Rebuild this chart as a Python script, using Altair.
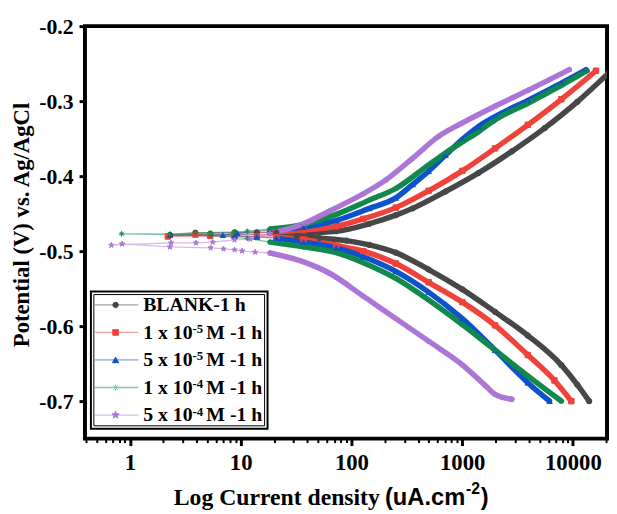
import altair as alt
import pandas as pd

# ---------------- data (current density in uA/cm2, potential in V) ----------------
NAMES = ["BLANK-1 h", "1 x 10-5 M -1 h", "5 x 10-5 M -1 h", "1 x 10-4 M -1 h", "5 x 10-4 M -1 h"]
LABEL_MAIN = ["BLANK-1 h", "1 x 10", "5 x 10", "1 x 10", "5 x 10"]
LABEL_SUP = ["", "-5", "-5", "-4", "-4"]
LABEL_TAIL = ["", "M -1 h", "M -1 h", "M -1 h", "M -1 h"]

BLANK_CATH_I = [14030, 10950, 7873, 3917, 1983, 1004, 498, 252, 145, 90, 51.5, 32, 21, 14, 8.8, 5.3, 2.3]
BLANK_CATH_E = [-0.700, -0.678, -0.652, -0.6125, -0.581, -0.551, -0.5245, -0.502, -0.4917, -0.486,
                -0.4826, -0.480, -0.4786, -0.478, -0.4775, -0.477, -0.4785]
BLANK_ANOD_I = [3.9, 8.8, 14, 21, 37, 73, 145, 252, 358, 708, 1397, 2812, 5559, 10950, 21180]
BLANK_ANOD_E = [-0.4755, -0.475, -0.475, -0.4752, -0.4755, -0.4734, -0.4635, -0.452, -0.443, -0.4205,
                -0.396, -0.367, -0.336, -0.301, -0.262]

RED_CATH_I = [9680, 6822, 3917, 1983, 1004, 498, 252, 128, 73, 37, 21, 14, 8.8, 5.3, 2.2]
RED_CATH_E = [-0.700, -0.6725, -0.6385, -0.599, -0.568, -0.5416, -0.5165, -0.500, -0.4925, -0.4845,
              -0.4815, -0.4805, -0.480, -0.4795, -0.4805]
RED_ANOD_I = [3.9, 8.8, 18.4, 37, 73, 128, 252, 498, 1004, 1983, 3917, 7873, 16190]
RED_ANOD_E = [-0.478, -0.4775, -0.4747, -0.472, -0.467, -0.457, -0.442, -0.4196, -0.393, -0.363,
              -0.3316, -0.2975, -0.2595]

BLUE_CATH_I = [6155, 3917, 1983, 1004, 498, 252, 128, 73, 37, 21, 14, 8.8, 2.3]
BLUE_CATH_E = [-0.700, -0.6754, -0.632, -0.590, -0.5547, -0.527, -0.5075, -0.4957, -0.488, -0.4826,
               -0.481, -0.4795, -0.4786]
BLUE_ANOD_I = [6.9, 9.3, 18.4, 37, 73, 145, 252, 358, 498, 708, 1004, 1397, 1983, 3917, 7873, 13180]
BLUE_ANOD_E = [-0.4786, -0.476, -0.472, -0.468, -0.459, -0.443, -0.429, -0.411, -0.3935, -0.372,
               -0.351, -0.334, -0.3205, -0.299, -0.276, -0.258]

GREEN_CATH_I = [7873, 3917, 1983, 1004, 498, 252, 128, 73, 37, 18.4, 11.5, 5.4, 0.84]
GREEN_CATH_E = [-0.700, -0.6662, -0.6321, -0.598, -0.5652, -0.5364, -0.5154, -0.502, -0.4944, -0.488,
                -0.483, -0.479, -0.477]
GREEN_ANOD_I = [2.3, 3.9, 5.35, 8.8, 11.5, 18.4, 37, 73, 145, 252, 498, 708, 1004, 1397, 1983, 3917, 7873, 13460]
GREEN_ANOD_E = [-0.477, -0.476, -0.4755, -0.4747, -0.4734, -0.4705, -0.4643, -0.451, -0.432, -0.4165,
                -0.385, -0.369, -0.3545, -0.341, -0.325, -0.303, -0.279, -0.2595]

PURPLE_CATH_I = [2812, 1983, 1614, 1004, 498, 252, 128, 63.4, 37, 18.4, 13.5, 10.3, 8.8, 7.0, 5.35, 2.3, 0.85, 0.68]
PURPLE_CATH_E = [-0.6975, -0.691, -0.679, -0.6516, -0.620, -0.590, -0.560, -0.5295, -0.5143, -0.5025,
                 -0.5013, -0.4997, -0.4983, -0.497, -0.4957, -0.4944, -0.4904, -0.492]
PURPLE_ANOD_I = [2.35, 3.94, 5.6, 8.8, 12.2, 18.4, 37, 63.4, 128, 205, 358, 612, 1004, 1983, 3917, 9290]
PURPLE_ANOD_E = [-0.489, -0.489, -0.488, -0.485, -0.484, -0.4765, -0.4635, -0.4465, -0.4235, -0.405,
                 -0.376, -0.347, -0.329, -0.3067, -0.2857, -0.258]

X_MAJOR = [1, 10, 100, 1000, 10000]
X_MINOR = [0.4, 0.5, 0.6, 0.7, 0.8, 0.9, 2, 3, 4, 5, 6, 7, 8, 9, 20, 30, 40, 50, 60, 70, 80, 90,
           200, 300, 400, 500, 600, 700, 800, 900, 2000, 3000, 4000, 5000, 6000, 7000, 8000, 9000, 20000]
Y_TICKS = [-0.2, -0.3, -0.4, -0.5, -0.6, -0.7]

# ---------------- styling ----------------
COLORS = ["#474747", "#f0413a", "#0c52c8", "#12894c", "#ad76d6"]
LEG_MARK = ["#474747", "#f0413a", "#0c52c8", "#7fcf9f", "#ad76d6"]
ASTERISK = "M-1,0L1,0M0,-1L0,1M-0.7,-0.7L0.7,0.7M-0.7,0.7L0.7,-0.7"
STAR = ("M0,-1L0.235,-0.324L0.951,-0.309L0.38,0.124L0.588,0.809L0,0.4L-0.588,0.809"
        "L-0.38,0.124L-0.951,-0.309L-0.235,-0.324Z")
SHAPES = ["circle", "square", "triangle-up", ASTERISK, STAR]
SIZES = [30, 32, 40, 45, 60]
SERIF = "Liberation Serif"
SANS = "Liberation Sans"

series_data = [
    (BLANK_CATH_I, BLANK_CATH_E, BLANK_ANOD_I, BLANK_ANOD_E),
    (RED_CATH_I, RED_CATH_E, RED_ANOD_I, RED_ANOD_E),
    (BLUE_CATH_I, BLUE_CATH_E, BLUE_ANOD_I, BLUE_ANOD_E),
    (GREEN_CATH_I, GREEN_CATH_E, GREEN_ANOD_I, GREEN_ANOD_E),
    (PURPLE_CATH_I, PURPLE_CATH_E, PURPLE_ANOD_I, PURPLE_ANOD_E),
]

rows = []
for k, (ci, ce, ai, ae) in enumerate(series_data):
    seq = 0
    for i, e in zip(ci, ce):
        rows.append({"series": NAMES[k], "I": i, "E": e, "branch": "c", "seq": seq})
        seq += 1
    for i, e in zip(ai, ae):
        rows.append({"series": NAMES[k], "I": i, "E": e, "branch": "a", "seq": seq})
        seq += 1
df = pd.DataFrame(rows)

W, H = 529, 418
MAJ = "abs(log(datum.value)/LN10 - round(log(datum.value)/LN10)) < 0.001"

xscale = alt.Scale(type="log", domain=[0.3925, 20340], nice=False)
yscale = alt.Scale(domain=[-0.75, -0.2], nice=False, zero=False)
cscale = alt.Scale(domain=NAMES, range=COLORS)

x_enc = alt.X("I:Q", scale=xscale, axis=alt.Axis(
    values=X_MAJOR + X_MINOR, labelExpr=f"({MAJ}) ? format(datum.value, 'd') : ''",
    tickSize={"condition": {"test": MAJ, "value": 7}, "value": 4},
    tickWidth={"condition": {"test": MAJ, "value": 3}, "value": 2},
    tickColor="black", domain=False, grid=False, labelOverlap=False,
    labelFont=SERIF, labelFontSize=23, labelFontWeight="bold", labelColor="black",
    labelPadding=6, title=None))
y_enc = alt.Y("E:Q", scale=yscale, axis=alt.Axis(
    values=Y_TICKS, labelExpr="'-' + format(abs(datum.value), '.1f')",
    tickSize=6, tickWidth=3, tickColor="black", domain=False, grid=False,
    labelFont=SERIF, labelFontSize=22, labelFontWeight="bold", labelColor="black",
    labelPadding=6, title="Potential (V) vs. Ag/AgCl", titleFont=SERIF, titleFontSize=23,
    titleFontWeight="bold", titleColor="black", titleX=-64, titleY=201, titleBaseline="middle"))

base = alt.Chart(df)
thin = base.mark_line(strokeWidth=1.3, opacity=0.5, clip=True).encode(
    x=x_enc, y=y_enc, color=alt.Color("series:N", scale=cscale, legend=None),
    detail="series:N", order="seq:Q")
thick = base.transform_filter("datum.I >= 18").mark_line(
    strokeWidth=5.5, clip=True, strokeCap="round", interpolate="monotone").encode(
    x=x_enc, y=y_enc, color=alt.Color("series:N", scale=cscale, legend=None),
    detail=["series:N", "branch:N"], order=alt.Order("I:Q"))
pts = base.mark_point(filled=True, opacity=1, strokeWidth=1, clip=True).encode(
    x=x_enc, y=y_enc,
    color=alt.Color("series:N", scale=cscale, legend=None),
    stroke=alt.Stroke("series:N", scale=cscale, legend=None),
    shape=alt.Shape("series:N", scale=alt.Scale(domain=NAMES, range=SHAPES), legend=None),
    size=alt.Size("series:N", scale=alt.Scale(domain=NAMES, range=SIZES), legend=None))

one = pd.DataFrame({"k": [0]})
layers = [thin, thick, pts]

# legend (manual)
layers.append(alt.Chart(one).mark_rect(fill="white", stroke="black", strokeWidth=2).encode(
    x=alt.value(6), x2=alt.value(185), y=alt.value(269), y2=alt.value(408)))
layers.append(alt.Chart(one).mark_rect(fillOpacity=0, stroke="black", strokeWidth=1).encode(
    x=alt.value(9), x2=alt.value(182), y=alt.value(272), y2=alt.value(405)))
for k in range(5):
    bl = 289 + 27.9 * k
    cy = bl - 6.5
    layers.append(alt.Chart(one).mark_rule(color=COLORS[k], opacity=0.5, strokeWidth=1.3).encode(
        x=alt.value(10), x2=alt.value(54), y=alt.value(cy)))
    layers.append(alt.Chart(one).mark_point(shape=SHAPES[k], filled=True, fill=LEG_MARK[k], stroke=LEG_MARK[k],
                                            strokeWidth=1, opacity=1, size=SIZES[k]).encode(
        x=alt.value(31), y=alt.value(cy)))
    layers.append(alt.Chart(one).mark_text(font=SERIF, fontSize=20, fontWeight="bold", color="black",
                                           align="left", baseline="alphabetic").encode(
        x=alt.value(59), y=alt.value(bl), text=alt.value(LABEL_MAIN[k])))
    if LABEL_SUP[k]:
        layers.append(alt.Chart(one).mark_text(font=SERIF, fontSize=13, fontWeight="bold", color="black",
                                               align="left", baseline="alphabetic").encode(
            x=alt.value(109), y=alt.value(bl - 6), text=alt.value(LABEL_SUP[k])))
        layers.append(alt.Chart(one).mark_text(font=SERIF, fontSize=20, fontWeight="bold", color="black",
                                               align="left", baseline="alphabetic").encode(
            x=alt.value(123), y=alt.value(bl), text=alt.value(LABEL_TAIL[k])))

# x-axis title (mixed fonts, superscript)
TB = 485
for txt, xx, yy, fnt, fs in [("Log Current density", 90, TB, SERIF, 24),
                             ("(uA.cm", 304, TB, SANS, 24),
                             ("-2", 386, TB - 11, SANS, 16),
                             (")", 401, TB, SANS, 24)]:
    layers.append(alt.Chart(one).mark_text(font=fnt, fontSize=fs, fontWeight="bold", color="black",
                                           align="left", baseline="alphabetic").encode(
        x=alt.value(xx), y=alt.value(yy), text=alt.value(txt)))

chart = alt.layer(*layers).properties(
    width=W, height=H,
    autosize=alt.AutoSizeParams(type="none"),
    padding={"left": 78, "top": 15, "right": 2, "bottom": 73},
    background="white",
).configure_view(stroke="black", strokeWidth=4)

chart.save("out.html", embed_options={"renderer": "svg", "actions": False})
